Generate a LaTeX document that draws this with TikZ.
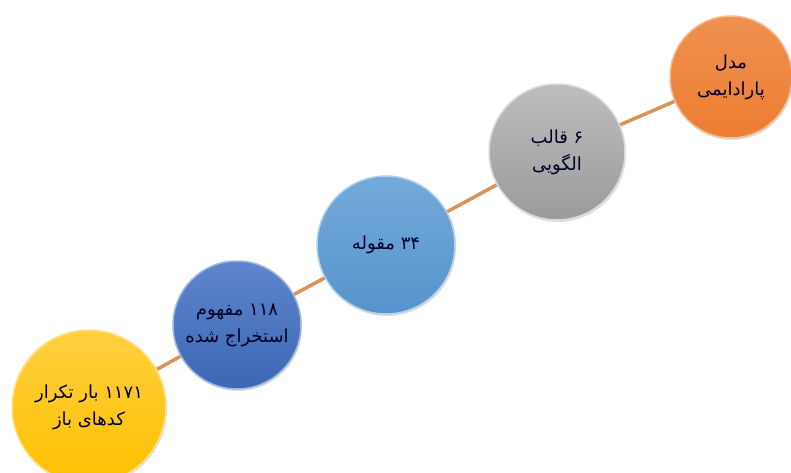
\documentclass[tikz,border=0pt]{standalone}
\usepackage{fontspec}
\newfontfamily\fafont[Script=Arabic]{DejaVu Sans}
\TeXXeTstate=1
\usetikzlibrary{shadows,backgrounds}
\definecolor{ylw}{HTML}{FFC000}
\definecolor{dblue}{HTML}{4270C4}
\definecolor{lblue}{HTML}{5B9BD5}
\definecolor{gry}{HTML}{A8A8A8}
\definecolor{orng}{HTML}{ED7D31}
\definecolor{link}{HTML}{DB9258}
\begin{document}
\begin{tikzpicture}[x=1pt,y=1pt,
  ball/.style={circle,inner sep=0pt,minimum size=#1,align=center,
    font=\fafont\fontsize{18}{27}\selectfont,text=black!85!blue,
    drop shadow={opacity=0.25,shadow xshift=1pt,shadow yshift=-2pt}},
  yb/.style={ball=154pt,top color=ylw!75!white,bottom color=ylw,draw=ylw!45!white,line width=1.5pt},
  db/.style={ball=128pt,top color=dblue!85!white,bottom color=dblue!92!black,draw=dblue!50!white,line width=1.5pt},
  lb/.style={ball=138pt,top color=lblue!85!white,bottom color=lblue!95!black,draw=lblue!45!white,line width=1.5pt},
  gb/.style={ball=136pt,top color=gry!75!white,bottom color=gry!92!black,draw=gry!40!white,line width=1.5pt},
  ob/.style={ball=122pt,top color=orng!85!white,bottom color=orng,draw=orng!50!white,line width=1.5pt},
  link/.style={draw=link,line width=3.5pt}]
\useasboundingbox (0,0) rectangle (791,472);
\node[yb] (a) at (89,65) {\beginR ۱۱۷۱ بار تکرار\endR\\\beginR کدهای باز\endR};
\node[db] (b) at (237,147) {\beginR ۱۱۸ مفهوم\endR\\\beginR استخراج شده\endR};
\node[lb] (c) at (386,227) {\beginR ۳۴ مقوله\endR};
\node[gb] (d) at (557,320) {\beginR ۶ قالب\endR\\\beginR الگویی\endR};
\node[ob] (e) at (731,395) {\beginR مدل\endR\\\beginR پارادایمی\endR};
\begin{scope}[on background layer]
\fill[white] (0,0) rectangle (791,472);
\draw[link] (a.center) -- (b.center) -- (c.center) -- (d.center) -- (e.center);
\end{scope}
\end{tikzpicture}
\end{document}
